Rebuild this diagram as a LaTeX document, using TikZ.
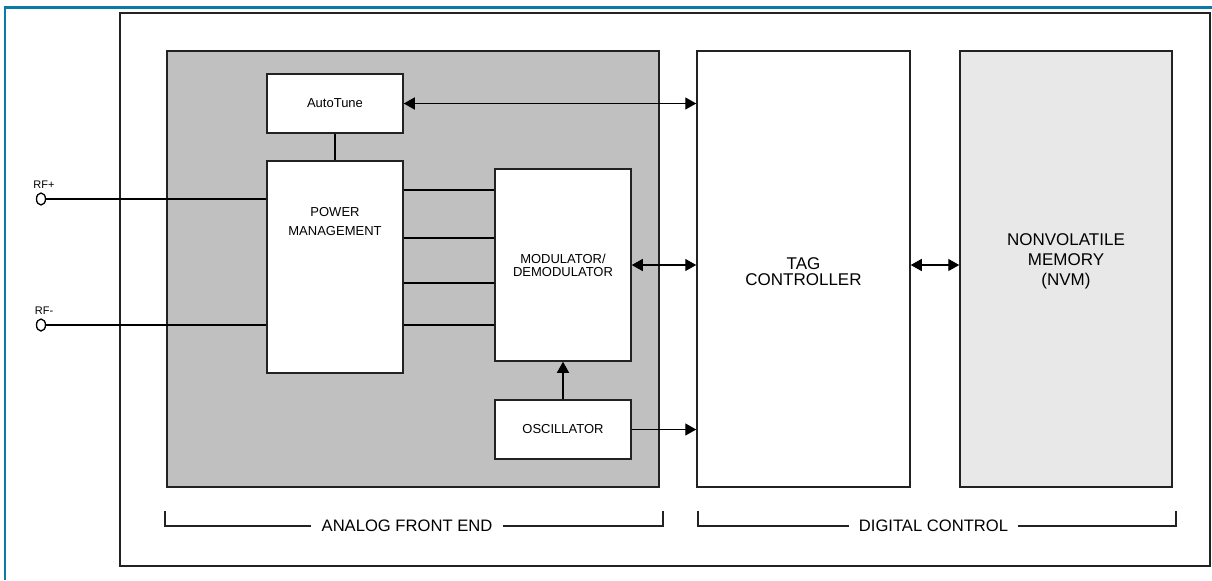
\documentclass[tikz,border=0pt]{standalone}
\usepackage{fontspec}
\setmainfont{Liberation Sans}
\usetikzlibrary{arrows.meta,shapes.geometric}
\definecolor{afegray}{HTML}{C0C0C0}
\definecolor{nvmgray}{HTML}{E8E8E8}
\definecolor{frameblue}{HTML}{0A7AA6}
\definecolor{edgedark}{HTML}{222222}
\tikzset{
  blk/.style={draw=edgedark,line width=0.75pt,fill=white,align=center,inner sep=0pt,minimum width=68pt,font=\fontsize{6.5}{6.5}\selectfont},
  region/.style={draw=edgedark,line width=0.75pt,align=center,inner sep=0pt,minimum height=218pt,font=\fontsize{8.5}{10.8}\selectfont},
  wire/.style={draw=black,line width=0.7pt},
  ar/.style={wire,-{Triangle[length=5.5pt,width=6pt]}},
  biar/.style={wire,{Triangle[length=5.5pt,width=6pt]}-{Triangle[length=5.5pt,width=6pt]}},
  term/.style={ellipse,draw=black,line width=0.65pt,inner sep=0pt,minimum width=4.5pt,minimum height=6pt},
  rflbl/.style={font=\fontsize{5.5}{6}\selectfont,inner sep=1.5pt,xshift=1.5pt},
  grp/.style={font=\fontsize{8.3}{10}\selectfont,inner sep=5pt},
  brk/.style={draw=edgedark,line width=0.65pt},
}

\begin{document}
\begin{tikzpicture}[x=0.5pt,y=-0.5pt,every node/.style={font=\fontsize{6.5}{6.5}\selectfont}]
  \useasboundingbox (0,0) rectangle (1212,580);
  % page frame and chip outline
  \draw[frameblue,line width=1.3pt] (4.8,580) -- (4.8,7.5) -- (1212,7.5);
  \draw[edgedark,line width=1.2pt] (120,13) rectangle (1210,566);
  % blocks
  \node[region,fill=afegray,minimum width=246pt] (afe) at (413,269) {};
  \node[blk,minimum height=29.5pt] (tune) at (335,103.5) {AutoTune};
  \node[blk,minimum height=106pt,label={[font=\fontsize{6.5}{9.5}\selectfont,align=center,anchor=north,yshift=-20pt]north:POWER\\MANAGEMENT}] (pwr) at (335,267) {};
  \node[blk,minimum height=96pt] (mod) at (563,265) {MODULATOR/\\DEMODULATOR};
  \node[blk,minimum height=29.5pt] (osc) at (563,429.5) {OSCILLATOR};
  \node[region,fill=white,minimum width=106.5pt,label={[font=\fontsize{8.5}{8}\selectfont,align=center,yshift=-1.5pt]center:TAG\\CONTROLLER}] (tag) at (803.5,269) {};
  \node[region,fill=nvmgray,minimum width=106pt,label={[font=\fontsize{8.5}{10}\selectfont,align=center,yshift=4pt]center:NONVOLATILE\\MEMORY\\(NVM)}] (nvm) at (1066,269) {};
  % RF inputs
  \node[term,label={[rflbl]above:RF+}] (rfp) at (41,199) {};
  \node[term,label={[rflbl]above:RF-}] (rfn) at (41,325) {};
  \draw[wire] (rfp) -- (rfp -| pwr.west);
  \draw[wire] (rfn) -- (rfn -| pwr.west);
  % links
  \draw[wire] (tune) -- (pwr);
  \draw[biar] (tune) -- (tune -| tag.west);
  \foreach \y in {190,238,283,325}
    \draw[wire] (pwr.east |- 0,\y) -- (mod.west |- 0,\y);
  \draw[biar] (mod) -- (mod -| tag.west);
  \draw[ar] (osc) -- (mod);
  \draw[ar] (osc) -- (osc -| tag.west);
  \draw[biar] ([yshift=2pt]tag.east) -- ([yshift=2pt]nvm.west);
  % group brackets
  \node[grp] (afelbl) at (407,526) {ANALOG FRONT END};
  \coordinate (afeL) at (165,511);
  \coordinate (afeR) at (663,511);
  \draw[brk] (afelbl.west) -- (afelbl.west -| afeL) -- (afeL);
  \draw[brk] (afelbl.east) -- (afelbl.east -| afeR) -- (afeR);
  \node[grp] (dclbl) at (933.5,526) {DIGITAL CONTROL};
  \coordinate (dcL) at (698,511);
  \coordinate (dcR) at (1176,511);
  \draw[brk] (dclbl.west) -- (dclbl.west -| dcL) -- (dcL);
  \draw[brk] (dclbl.east) -- (dclbl.east -| dcR) -- (dcR);
\end{tikzpicture}
\end{document}
